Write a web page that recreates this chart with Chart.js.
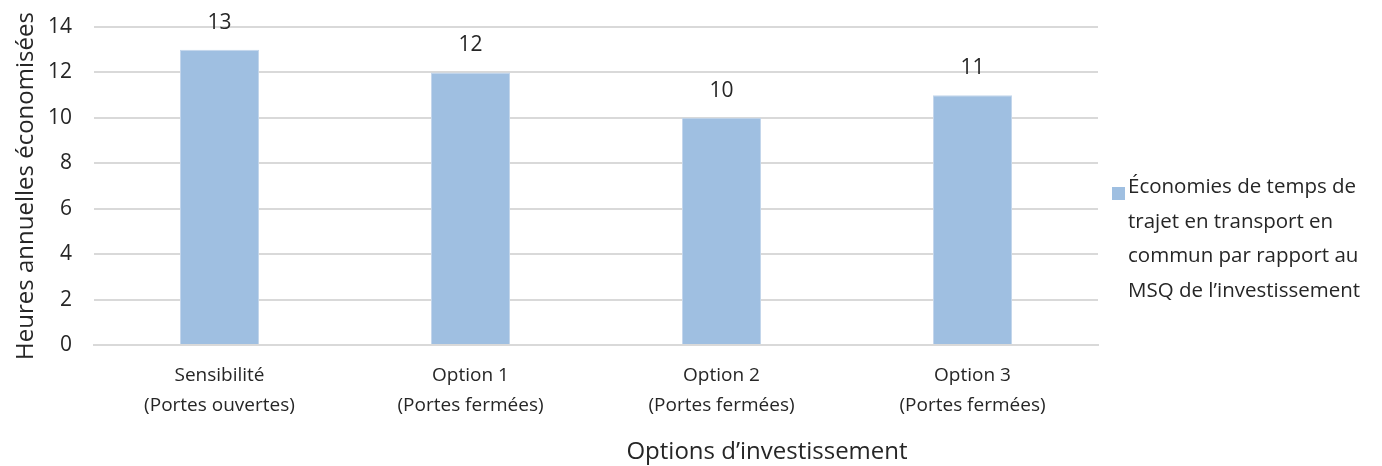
<!DOCTYPE html>
<html lang="fr">
<head>
<meta charset="utf-8">
<script src="https://cdn.jsdelivr.net/npm/chart.js@4/dist/chart.umd.min.js"></script>
<style>
  html, body { margin: 0; padding: 0; background: #fff; }
  #wrap { width: 1382px; height: 466px; position: relative; }
</style>
</head>
<body>
<div id="wrap"><canvas id="chart" width="1382" height="466"></canvas></div>
<script>
const categories = [
  ['Sensibilité', '(Portes ouvertes)'],
  ['Option 1', '(Portes fermées)'],
  ['Option 2', '(Portes fermées)'],
  ['Option 3', '(Portes fermées)']
];
const heuresEconomisees = [13, 12, 10, 11];
const seriesName = 'Économies de temps de trajet en transport en commun par rapport au MSQ de l’investissement';
const legendLines = ['Économies de temps de', 'trajet en transport en', 'commun par rapport au', 'MSQ de l’investissement'];
const yTitle = 'Heures annuelles économisées';
const xTitle = 'Options d’investissement';

const barColor = '#9fbfe1';
const textColor = '#262626';
const gridColor = '#d9d9d9';
const fontFamily = '"Open Sans", Lato, sans-serif';

// étiquettes de valeurs au-dessus des barres
const valueLabels = {
  id: 'valueLabels',
  afterDatasetsDraw(chart) {
    const ctx = chart.ctx;
    const meta = chart.getDatasetMeta(0);
    ctx.save();
    ctx.font = '21px ' + fontFamily;
    ctx.fillStyle = textColor;
    ctx.textAlign = 'center';
    ctx.textBaseline = 'middle';
    meta.data.forEach((bar, i) => {
      ctx.fillText(String(heuresEconomisees[i]), bar.x, bar.y - 27);
    });
    ctx.restore();
  }
};

// légende à droite + titre de l'axe x
const sideLegend = {
  id: 'sideLegend',
  afterDraw(chart) {
    const ctx = chart.ctx;
    const area = chart.chartArea;
    ctx.save();
    ctx.fillStyle = barColor;
    ctx.fillRect(area.right + 14, 187, 13, 13);
    ctx.font = '20.5px ' + fontFamily;
    ctx.fillStyle = textColor;
    ctx.textAlign = 'left';
    ctx.textBaseline = 'middle';
    legendLines.forEach((line, i) => {
      ctx.fillText(line, area.right + 30, 187 + i * 34.8);
    });
    ctx.font = '24px ' + fontFamily;
    ctx.textAlign = 'center';
    ctx.fillText(xTitle, 767, 452);
    ctx.restore();
  }
};

new Chart(document.getElementById('chart').getContext('2d'), {
  type: 'bar',
  data: {
    labels: categories,
    datasets: [{
      label: seriesName,
      data: heuresEconomisees,
      backgroundColor: barColor,
      borderColor: '#c3d6ec',
      borderWidth: 1,
      categoryPercentage: 1,
      barPercentage: 0.315
    }]
  },
  options: {
    responsive: false,
    animation: false,
    layout: { padding: { top: 0, right: 284, bottom: 0, left: 0 } },
    plugins: {
      legend: { display: false },
      tooltip: { enabled: false }
    },
    scales: {
      x: {
        grid: { display: false, drawTicks: false },
        border: { color: gridColor, width: 2 },
        ticks: {
          color: textColor,
          font: { family: fontFamily, size: 19, lineHeight: 1.55 },
          padding: 16,
          maxRotation: 0
        },
        afterFit(scale) { scale.height = 121; }
      },
      y: {
        min: 0,
        max: 14,
        ticks: {
          stepSize: 2,
          color: textColor,
          font: { family: fontFamily, size: 21 },
          padding: 22
        },
        grid: { color: gridColor, lineWidth: 2, drawTicks: false },
        border: { display: false },
        title: {
          display: true,
          text: yTitle,
          color: textColor,
          font: { family: fontFamily, size: 24 },
          padding: { top: 12, bottom: 0 }
        },
        afterFit(scale) {
          scale.width = 94;
          scale.paddingTop = 27;
          scale.paddingBottom = 0;
        }
      }
    }
  },
  plugins: [valueLabels, sideLegend]
});
</script>
</body>
</html>
